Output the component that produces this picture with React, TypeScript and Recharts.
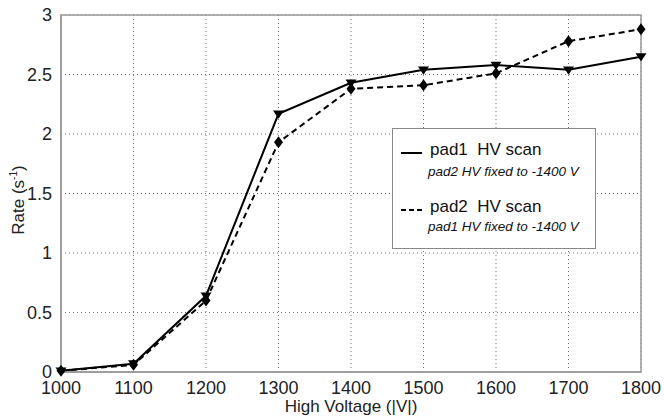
import React from "react";
import {
  LineChart,
  Line,
  XAxis,
  YAxis,
  CartesianGrid,
  ReferenceArea,
  Label,
} from "recharts";

// High voltage settings (|V|)
const voltages = [1000, 1100, 1200, 1300, 1400, 1500, 1600, 1700, 1800];
// Rate (s^-1) for pad 1 scan (pad 2 fixed at -1400 V)
const pad1Rate = [0.01, 0.07, 0.64, 2.17, 2.43, 2.54, 2.58, 2.54, 2.65];
// Rate (s^-1) for pad 2 scan (pad 1 fixed at -1400 V)
const pad2Rate = [0.01, 0.06, 0.6, 1.93, 2.38, 2.41, 2.51, 2.78, 2.88];

const xTicks = [1000, 1100, 1200, 1300, 1400, 1500, 1600, 1700, 1800];
const yTicks = [0, 0.5, 1, 1.5, 2, 2.5, 3];

const data = voltages.map((v, i) => ({ hv: v, pad1: pad1Rate[i], pad2: pad2Rate[i] }));

const FONT = "'Liberation Sans', Arial, sans-serif";

const TriangleDot = (props: any) => {
  const { cx, cy, index } = props;
  if (cx == null || cy == null) return <g key={index} />;
  const s = 5.5;
  return (
    <path
      key={index}
      d={`M${cx - s},${cy - s * 0.6} L${cx + s},${cy - s * 0.6} L${cx},${cy + s * 0.9} Z`}
      fill="#000"
    />
  );
};

const DiamondDot = (props: any) => {
  const { cx, cy, index } = props;
  if (cx == null || cy == null) return <g key={index} />;
  return (
    <path
      key={index}
      d={`M${cx},${cy - 6} L${cx + 4.5},${cy} L${cx},${cy + 6} L${cx - 4.5},${cy} Z`}
      fill="#000"
    />
  );
};

const LegendBox = () => (
  <div
    style={{
      position: "absolute",
      left: 392,
      top: 128,
      width: 204,
      height: 121,
      border: "1px solid #888",
      background: "#fff",
      boxSizing: "border-box",
      fontFamily: FONT,
      color: "#111",
    }}
  >
    <svg width={30} height={100} style={{ position: "absolute", left: 6, top: 10 }}>
      <line x1={2} y1={14} x2={23} y2={14} stroke="#000" strokeWidth={2} />
      <line x1={2} y1={71} x2={23} y2={71} stroke="#000" strokeWidth={2} strokeDasharray="5 3" />
    </svg>
    <div style={{ position: "absolute", left: 37, top: 11, fontSize: 17, whiteSpace: "nowrap" }}>
      pad1&nbsp; HV scan
    </div>
    <div style={{ position: "absolute", left: 35, top: 35, fontSize: 13.5, fontStyle: "italic", whiteSpace: "nowrap" }}>
      pad2 HV fixed to -1400 V
    </div>
    <div style={{ position: "absolute", left: 37, top: 68, fontSize: 17, whiteSpace: "nowrap" }}>
      pad2&nbsp; HV scan
    </div>
    <div style={{ position: "absolute", left: 35, top: 90, fontSize: 13.5, fontStyle: "italic", whiteSpace: "nowrap" }}>
      pad1 HV fixed to -1400 V
    </div>
  </div>
);

const YLabel = () => {
  const x = 24;
  const y = 200;
  return (
    <text
      x={x}
      y={y}
      transform={`rotate(-90, ${x}, ${y})`}
      textAnchor="middle"
      fontFamily={FONT}
      fontSize={17}
      fill="#222"
    >
      Rate (s
      <tspan dy={-7} fontSize={10}>-1</tspan>
      <tspan dy={7}>)</tspan>
    </text>
  );
};

export default function App() {
  return (
    <div style={{ position: "absolute", left: 0, top: 0, width: 664, height: 417, background: "#fff" }}>
      <LineChart
        width={664}
        height={417}
        data={data}
        margin={{ top: 15, right: 23, bottom: 0, left: 0 }}
      >
        <CartesianGrid stroke="#777" strokeDasharray="1 3" />
        <XAxis
          dataKey="hv"
          type="number"
          domain={[1000, 1800]}
          ticks={xTicks}
          interval={0}
          height={45}
          axisLine={{ stroke: "#999", strokeWidth: 1.5 }}
          tickLine={false}
          tickMargin={3}
          tick={{ fontSize: 18, fill: "#222", fontFamily: FONT }}
        >
          <Label
            value="High Voltage (|V|)"
            position="insideBottom"
            offset={5}
            style={{ fontSize: 17, fill: "#222", fontFamily: FONT }}
          />
        </XAxis>
        <YAxis
          type="number"
          domain={[0, 3]}
          ticks={yTicks}
          interval={0}
          width={61}
          axisLine={{ stroke: "#999", strokeWidth: 1.5 }}
          tickLine={false}
          tickMargin={3}
          tick={{ fontSize: 18, fill: "#222", fontFamily: FONT }}
        >
          <Label content={<YLabel />} />
        </YAxis>
        <ReferenceArea
          x1={1000}
          x2={1800}
          y1={0}
          y2={3}
          stroke="#999"
          strokeWidth={1.5}
          fill="none"
          fillOpacity={0}
        />
        <Line
          dataKey="pad1"
          stroke="#000"
          strokeWidth={2}
          dot={<TriangleDot />}
          isAnimationActive={false}
        />
        <Line
          dataKey="pad2"
          stroke="#000"
          strokeWidth={2}
          strokeDasharray="6 4"
          dot={<DiamondDot />}
          isAnimationActive={false}
        />
      </LineChart>
      <LegendBox />
    </div>
  );
}
